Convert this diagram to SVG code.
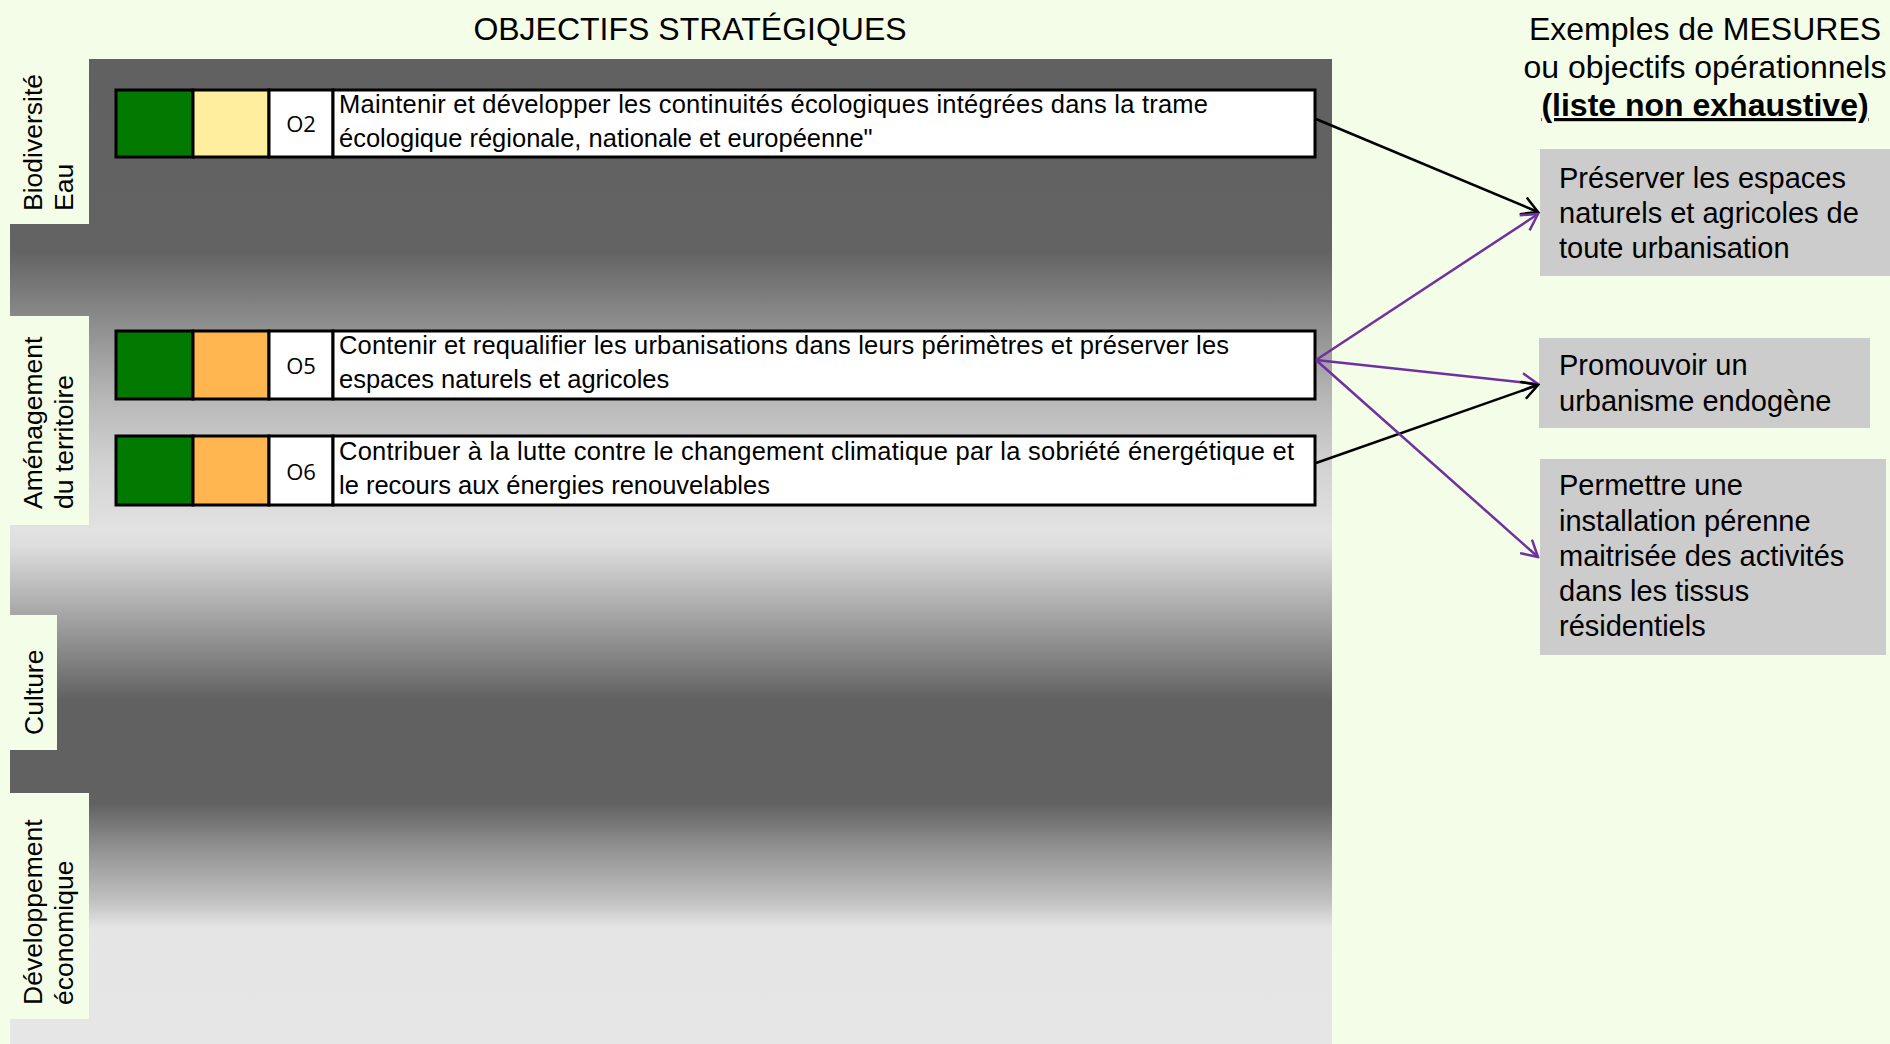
<svg xmlns="http://www.w3.org/2000/svg" width="1890" height="1044" viewBox="0 0 1890 1044">
<defs>
<linearGradient id="panelGrad" gradientUnits="userSpaceOnUse" x1="0" y1="59" x2="0" y2="1044">
<stop offset="0" stop-color="#616161"/>
<stop offset="0.195" stop-color="#636363"/>
<stop offset="0.266" stop-color="#8c8c8c"/>
<stop offset="0.346" stop-color="#b8b8b8"/>
<stop offset="0.417" stop-color="#d3d3d3"/>
<stop offset="0.478" stop-color="#e2e2e2"/>
<stop offset="0.493" stop-color="#dedede"/>
<stop offset="0.549" stop-color="#b2b2b2"/>
<stop offset="0.651" stop-color="#616161"/>
<stop offset="0.755" stop-color="#616161"/>
<stop offset="0.803" stop-color="#939393"/>
<stop offset="0.854" stop-color="#c0c0c0"/>
<stop offset="0.882" stop-color="#e5e5e5"/>
<stop offset="1" stop-color="#e6e6e6"/>
</linearGradient>
<marker id="arrBlk" viewBox="0 0 20 20" refX="18" refY="10" markerWidth="20" markerHeight="20" markerUnits="userSpaceOnUse" orient="auto">
<path d="M2,1 L18,10 L2,19" fill="none" stroke="#000" stroke-width="2.5"/>
</marker>
<marker id="arrPur" viewBox="0 0 20 20" refX="18" refY="10" markerWidth="20" markerHeight="20" markerUnits="userSpaceOnUse" orient="auto">
<path d="M2,1 L18,10 L2,19" fill="none" stroke="#7030A0" stroke-width="2.5"/>
</marker>
<style>
.hdr{font-family:"Liberation Sans",Arial,sans-serif;font-size:32px;fill:#000;}
.lbl{font-family:"Liberation Sans",Arial,sans-serif;font-size:26.5px;fill:#000;}
.code{font-family:"Open Sans","Liberation Sans",sans-serif;font-size:22px;fill:#000;text-anchor:middle;}
.desc{font-family:"Liberation Sans",Arial,sans-serif;font-size:25.5px;fill:#000;}
.mes{font-family:"Liberation Sans",Arial,sans-serif;font-size:29px;fill:#000;}
.cell{stroke:#000;stroke-width:3;}
.green{fill:#027A02;}
.yellow{fill:#FFEE9E;}
.orange{fill:#FFB650;}
.white{fill:#FFFFFF;}
.lblbox{fill:#F4FDE8;}
.mbox{fill:#CCCCCC;}
.blk{stroke:#000;stroke-width:2.5;fill:none;marker-end:url(#arrBlk);}
.pur{stroke:#7030A0;stroke-width:2.5;fill:none;marker-end:url(#arrPur);}
</style>
</defs>
<rect x="0" y="0" width="1890" height="1044" fill="#F4FDE8"/>
<rect id="panel" x="10" y="59" width="1322" height="985" fill="url(#panelGrad)"/>
<text class="hdr" x="690" y="40" text-anchor="middle">OBJECTIFS STRATÉGIQUES</text>
<g id="header-mesures">
<text class="hdr" x="1705" y="40" text-anchor="middle">Exemples de MESURES</text>
<text class="hdr" x="1705" y="78" text-anchor="middle">ou objectifs opérationnels</text>
<text class="hdr" x="1705" y="116" text-anchor="middle" font-weight="bold" text-decoration="underline">(liste non exhaustive)</text>
</g>
<g id="label-biodiversite">
<rect class="lblbox" x="10" y="59" width="79" height="165"/>
<text class="lbl" transform="translate(42,211) rotate(-90)"><tspan x="0" y="0">Biodiversité</tspan><tspan x="0" y="31">Eau</tspan></text>
</g>
<g id="label-amenagement">
<rect class="lblbox" x="10" y="316" width="79" height="209"/>
<text class="lbl" transform="translate(42,509) rotate(-90)"><tspan x="0" y="0">Aménagement</tspan><tspan x="0" y="31">du territoire</tspan></text>
</g>
<g id="label-culture">
<rect class="lblbox" x="10" y="615" width="47" height="135"/>
<text class="lbl" transform="translate(43,735) rotate(-90)">Culture</text>
</g>
<g id="label-developpement">
<rect class="lblbox" x="10" y="793" width="79" height="226"/>
<text class="lbl" transform="translate(42,1005) rotate(-90)"><tspan x="0" y="0">Développement</tspan><tspan x="0" y="31">économique</tspan></text>
</g>
<g id="row-o2">
<rect class="cell green" x="116" y="90" width="77" height="67"/>
<rect class="cell yellow" x="193" y="90" width="76" height="67"/>
<rect class="cell white" x="269" y="90" width="64" height="67"/>
<rect class="cell white" x="333" y="90" width="982" height="67"/>
<text class="code" x="301" y="132">O2</text>
<text class="desc" x="339" y="113" textLength="869" lengthAdjust="spacing">Maintenir et développer les continuités écologiques intégrées dans la trame</text>
<text class="desc" x="339" y="147">écologique régionale, nationale et européenne"</text>
</g>
<g id="row-o5">
<rect class="cell green" x="116" y="331" width="77" height="68"/>
<rect class="cell orange" x="193" y="331" width="76" height="68"/>
<rect class="cell white" x="269" y="331" width="64" height="68"/>
<rect class="cell white" x="333" y="331" width="982" height="68"/>
<text class="code" x="301" y="374">O5</text>
<text class="desc" x="339" y="354" textLength="890" lengthAdjust="spacing">Contenir et requalifier les urbanisations dans leurs périmètres et préserver les</text>
<text class="desc" x="339" y="388">espaces naturels et agricoles</text>
</g>
<g id="row-o6">
<rect class="cell green" x="116" y="436" width="77" height="69"/>
<rect class="cell orange" x="193" y="436" width="76" height="69"/>
<rect class="cell white" x="269" y="436" width="64" height="69"/>
<rect class="cell white" x="333" y="436" width="982" height="69"/>
<text class="code" x="301" y="480">O6</text>
<text class="desc" x="339" y="460" textLength="955" lengthAdjust="spacing">Contribuer à la lutte contre le changement climatique par la sobriété énergétique et</text>
<text class="desc" x="339" y="494">le recours aux énergies renouvelables</text>
</g>
<g id="mesure-1">
<rect class="mbox" x="1540" y="149" width="350" height="127"/>
<text class="mes"><tspan x="1559" y="188">Préserver les espaces</tspan><tspan x="1559" y="223">naturels et agricoles de</tspan><tspan x="1559" y="258">toute urbanisation</tspan></text>
</g>
<g id="mesure-2">
<rect class="mbox" x="1539" y="338" width="331" height="90"/>
<text class="mes"><tspan x="1559" y="375">Promouvoir un</tspan><tspan x="1559" y="411">urbanisme endogène</tspan></text>
</g>
<g id="mesure-3">
<rect class="mbox" x="1540" y="459" width="346" height="196"/>
<text class="mes"><tspan x="1559" y="495">Permettre une</tspan><tspan x="1559" y="531">installation pérenne</tspan><tspan x="1559" y="566">maitrisée des activités</tspan><tspan x="1559" y="601">dans les tissus</tspan><tspan x="1559" y="636">résidentiels</tspan></text>
</g>
<g id="connectors">
<line class="blk" x1="1316" y1="119" x2="1538" y2="212"/>
<line class="pur" x1="1316" y1="360" x2="1538" y2="214"/>
<line class="pur" x1="1316" y1="360" x2="1538" y2="384"/>
<line class="blk" x1="1316" y1="463" x2="1538" y2="385"/>
<line class="pur" x1="1316" y1="360" x2="1538" y2="557"/>
</g>
</svg>
